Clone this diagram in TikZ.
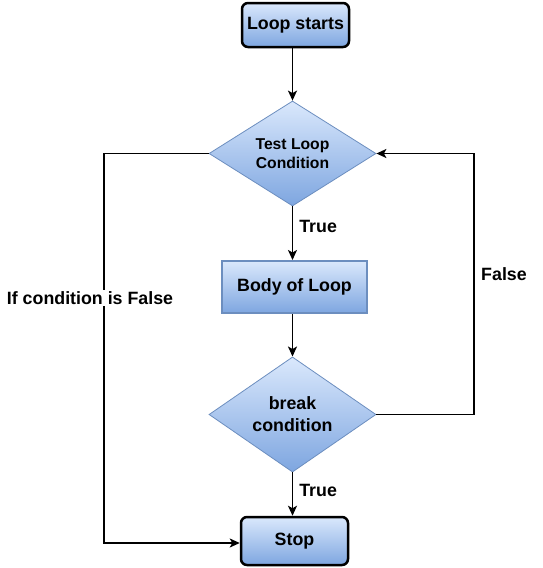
\documentclass[tikz,border=0pt]{standalone}
\usepackage{fontspec}
\setmainfont{Liberation Sans}
\usetikzlibrary{shapes.geometric,arrows.meta}
\definecolor{lightblue}{HTML}{DAE8FC}
\definecolor{darkblue}{HTML}{7EA6E0}
\definecolor{edgeblue}{HTML}{6C8EBF}
\tikzset{
  terminal/.style={rectangle, rounded corners=6pt, draw=black, line width=2.5pt,
    top color=lightblue, bottom color=darkblue, minimum width=107pt, minimum height=44pt,
    font=\fontsize{17.8}{22}\selectfont\bfseries, inner sep=0pt},
  decision/.style={diamond, draw=edgeblue, line width=0.8pt, top color=lightblue, bottom color=darkblue,
    minimum width=167pt, minimum height=105pt, inner sep=0pt, align=center},
  process/.style={rectangle, draw=edgeblue, line width=2pt, top color=lightblue, bottom color=darkblue,
    minimum width=145pt, minimum height=52pt, inner sep=0pt,
    font=\fontsize{17.8}{22}\selectfont\bfseries},
  conn/.style={line width=1.7pt, -{Stealth[length=10pt,width=9pt,inset=2.5pt]}},
  lbl/.style={font=\fontsize{17.8}{22}\selectfont\bfseries, inner sep=1pt}
}
\begin{document}
\begin{tikzpicture}[x=1pt,y=-1pt]
\useasboundingbox (0,0) rectangle (542,568);
\node[terminal] (start) at (295.5,25) {Loop starts};
\node[decision, font=\fontsize{15.7}{18.5}\selectfont\bfseries] (test) at (292.5,153.5) {Test Loop\\Condition};
\node[process] (body) at (294.5,287) {Body of Loop};
\node[decision, font=\fontsize{17.8}{22}\selectfont\bfseries] (brk) at (292.5,414.5) {break\\condition};
\node[terminal, minimum height=48pt] (stop) at (294.5,541) {Stop};
\coordinate (r) at (474,153.5);
\coordinate (l) at (104,153.5);

\draw[conn] (start.south -| test.north) -- (test.north);
\draw[conn] (test.south) -- node[lbl, pos=0.37, anchor=west, xshift=6pt, inner sep=0pt] {True} (test.south |- body.north);
\draw[conn] (test.south |- body.south) -- (brk.north);
\draw[conn] (brk.south) -- node[lbl, pos=0.41, anchor=west, xshift=6pt, inner sep=0pt] {True} (brk.south |- stop.north);
\draw[conn] (brk.east) -| (r) -- (test.east);
\node[lbl] (flbl) at (504,274) {False};
\draw[conn] (test.west) -- (l) |- ([yshift=-2pt]stop.west);
\node[lbl, fill=white] (iflbl) at (90,298) {If condition is False};
\end{tikzpicture}
\end{document}
